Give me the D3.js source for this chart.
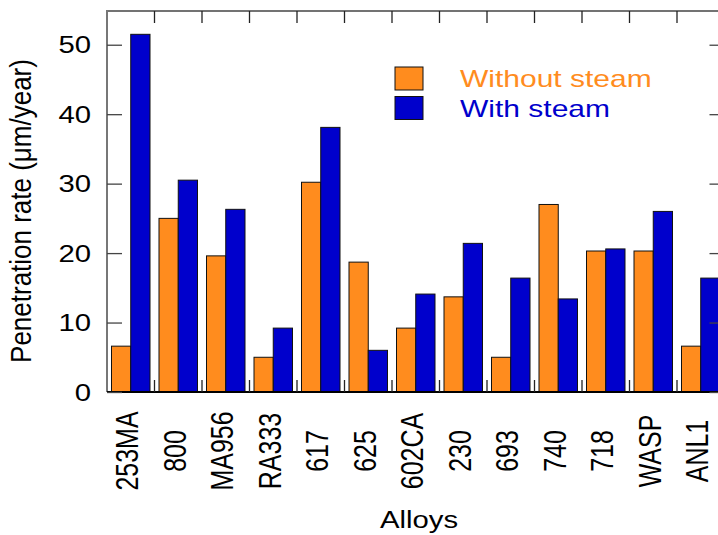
<!DOCTYPE html>
<html>
<head>
<meta charset="utf-8">
<script src="https://cdn.jsdelivr.net/npm/d3@7"></script>
<style>
  html, body { margin: 0; padding: 0; background: #fff; }
  svg { display: block; }
  text { font-family: "Liberation Sans", Arial, sans-serif; }
</style>
</head>
<body>
<svg id="chart" width="718" height="535"></svg>
<script>
const categories = ["253MA","800","MA956","RA333","617","625","602CA","230","693","740","718","WASP","ANL1"];
const seriesNames = ["Without steam","With steam"];
const withoutSteam = [6.6, 25.0, 19.6, 5.0, 30.2, 18.7, 9.2, 13.7, 5.0, 27.0, 20.3, 20.3, 6.6];
const withSteam    = [51.5, 30.5, 26.3, 9.2, 38.1, 6.0, 14.1, 21.4, 16.4, 13.4, 20.6, 26.0, 16.4];
const yTicks = [0, 10, 20, 30, 40, 50];
const colors = ["#ff8c1e", "#0000cc"];

const svg = d3.select("#chart");
const mLeft = 107, mRight = 724.5, mTop = 10, mBottom = 392;
const SX = 1.22;

const x0 = d3.scaleBand().domain(categories).range([mLeft, mRight]).padding(0);
const x1 = d3.scaleBand().domain(seriesNames).range([4.5, x0.bandwidth() - 4.5]).padding(0);
const y = d3.scaleLinear().domain([0, 55]).range([mBottom, mTop]);

const data = categories.map((c, i) => ({cat: c, vals: [withoutSteam[i], withSteam[i]]}));

// bars
const g = svg.append("g");
const groups = g.selectAll("g.grp").data(data).join("g")
  .attr("class", "grp")
  .attr("transform", d => `translate(${x0(d.cat)},0)`);
groups.selectAll("rect").data(d => d.vals.map((v, k) => ({k, v}))).join("rect")
  .attr("x", d => x1(seriesNames[d.k]))
  .attr("width", x1.bandwidth())
  .attr("y", d => y(d.v))
  .attr("height", d => y(0) - y(d.v))
  .attr("fill", d => colors[d.k])
  .attr("stroke", "#111")
  .attr("stroke-width", 1);

// frame lines
svg.append("line").attr("x1", mLeft).attr("x2", mRight).attr("y1", mTop + 1).attr("y2", mTop + 1)
  .attr("stroke", "#444").attr("stroke-width", 1.5);
svg.append("line").attr("x1", mLeft).attr("x2", mLeft).attr("y1", mTop).attr("y2", mBottom)
  .attr("stroke", "#777").attr("stroke-width", 2);
svg.append("line").attr("x1", mRight).attr("x2", mRight).attr("y1", mTop).attr("y2", mBottom)
  .attr("stroke", "#777").attr("stroke-width", 2);
svg.append("line").attr("x1", mLeft).attr("x2", mRight).attr("y1", mBottom).attr("y2", mBottom)
  .attr("stroke", "#000").attr("stroke-width", 2);

// y ticks (left and right, inward)
const yAxisL = d3.axisLeft(y).tickValues(yTicks).tickSize(-15).tickFormat("");
const gl = svg.append("g").attr("transform", `translate(${mLeft},0)`).call(yAxisL);
gl.select(".domain").remove();
gl.selectAll(".tick line").attr("stroke", "#444").attr("stroke-width", 1.3);
const yAxisR = d3.axisRight(y).tickValues(yTicks).tickSize(-15).tickFormat("");
const gr = svg.append("g").attr("transform", `translate(${mRight},0)`).call(yAxisR);
gr.select(".domain").remove();
gr.selectAll(".tick line").attr("stroke", "#444").attr("stroke-width", 1.3);

// y tick labels (stretched horizontally)
svg.append("g").selectAll("g").data(yTicks).join("g")
  .attr("transform", d => `translate(91,${y(d)}) scale(${SX},1)`)
  .append("text")
  .attr("text-anchor", "end").attr("dy", "0.36em")
  .attr("font-size", 24).attr("fill", "#000")
  .text(d => d);

// category boundary ticks (top and bottom)
const bounds = categories.slice(1).map(c => x0(c));
svg.append("g").selectAll("line").data(bounds).join("line")
  .attr("x1", d => d).attr("x2", d => d).attr("y1", mTop + 1).attr("y2", mTop + 13)
  .attr("stroke", "#222").attr("stroke-width", 1.3);
svg.append("g").selectAll("line").data(bounds).join("line")
  .attr("x1", d => d).attr("x2", d => d).attr("y1", mBottom).attr("y2", mBottom - 12)
  .attr("stroke", "#222").attr("stroke-width", 1.3);

// x labels (rotated)
svg.append("g").selectAll("g").data(categories).join("g")
  .attr("transform", d => `translate(${x0(d) + x0.bandwidth() / 2 - 3.5},451) scale(${SX},1) rotate(-90)`)
  .append("text")
  .attr("text-anchor", "middle").attr("dy", "0.36em")
  .attr("font-size", 25).attr("fill", "#000")
  .text(d => d);

// axis titles
svg.append("g").attr("transform", `translate(419,528) scale(${SX},1)`)
  .append("text").attr("text-anchor", "middle").attr("font-size", 24).attr("fill", "#000")
  .text("Alloys");
svg.append("g").attr("transform", `translate(31,211) scale(1.17,1) rotate(-90)`)
  .append("text").attr("text-anchor", "middle").attr("font-size", 26).attr("fill", "#000")
  .text("Penetration rate (μm/year)");

// legend
const legY = [67, 96.5];
const lg = svg.append("g");
seriesNames.forEach((s, k) => {
  lg.append("rect").attr("x", 395).attr("y", legY[k]).attr("width", 28).attr("height", 23)
    .attr("fill", colors[k]).attr("stroke", "#111").attr("stroke-width", 1);
  lg.append("g").attr("transform", `translate(460,${legY[k] + 20}) scale(1.25,1)`)
    .append("text").attr("font-size", 24).attr("fill", colors[k]).text(s);
});
</script>
</body>
</html>
